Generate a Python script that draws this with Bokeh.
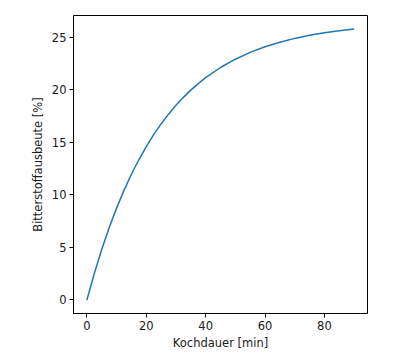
from bokeh.plotting import figure
from bokeh.models import Range1d, FixedTicker
from bokeh.embed import file_html
from bokeh.resources import INLINE

# Kochdauer [min] and read-off Bitterstoffausbeute [%]
kochdauer = [0, 2.5, 5, 7.5, 10, 12.5, 15, 17.5, 20, 22.5, 25, 27.5, 30, 32.5, 35,
             37.5, 40, 45, 50, 55, 60, 65, 70, 75, 80, 85, 90]
ausbeute = [0.0, 2.52, 4.80, 6.87, 8.74, 10.43, 11.96, 13.34, 14.59, 15.73, 16.75,
            17.68, 18.52, 19.28, 19.97, 20.59, 21.15, 22.12, 22.91, 23.56, 24.10,
            24.53, 24.89, 25.18, 25.42, 25.62, 25.78]
x_ticks = [0, 20, 40, 60, 80]
y_ticks = [0, 5, 10, 15, 20, 25]

xmin, xmax = min(kochdauer), max(kochdauer)
ymin, ymax = min(ausbeute), max(ausbeute)
mx = (xmax - xmin) * 0.05
my = (ymax - ymin) * 0.05

p = figure(width=384, height=341, frame_width=294, frame_height=298,
           min_border_left=73, min_border_right=17, min_border_top=15, min_border_bottom=28,
           x_range=Range1d(xmin - mx, xmax + mx), y_range=Range1d(ymin - my, ymax + my),
           output_backend="svg", toolbar_location=None)

p.line(kochdauer, ausbeute, line_color="#1f77b4", line_width=1.5)

p.grid.visible = False
p.outline_line_color = "black"
p.outline_line_width = 1
p.outline_line_alpha = 1
p.background_fill_color = "white"
p.border_fill_color = "white"

p.xaxis.axis_label = "Kochdauer [min]"
p.yaxis.axis_label = "Bitterstoffausbeute [%]"
p.xaxis.ticker = FixedTicker(ticks=x_ticks)
p.yaxis.ticker = FixedTicker(ticks=y_ticks)
for ax in (p.xaxis, p.yaxis):
    ax.axis_line_color = "black"
    ax.major_tick_line_color = "black"
    ax.major_tick_out = 4
    ax.major_tick_in = 0
    ax.minor_tick_line_color = None
    ax.major_label_text_font = "DejaVu Sans"
    ax.major_label_text_font_size = "11.5px"
    ax.major_label_text_color = "#1a1a1a"
    ax.major_label_standoff = 3
    ax.axis_label_text_font = "DejaVu Sans"
    ax.axis_label_text_font_size = "11.5px"
    ax.axis_label_text_font_style = "normal"
    ax.axis_label_text_color = "#1a1a1a"
p.xaxis.axis_label_standoff = 3
p.yaxis.axis_label_standoff = 4

open("out.html", "w").write(file_html(p, INLINE))
